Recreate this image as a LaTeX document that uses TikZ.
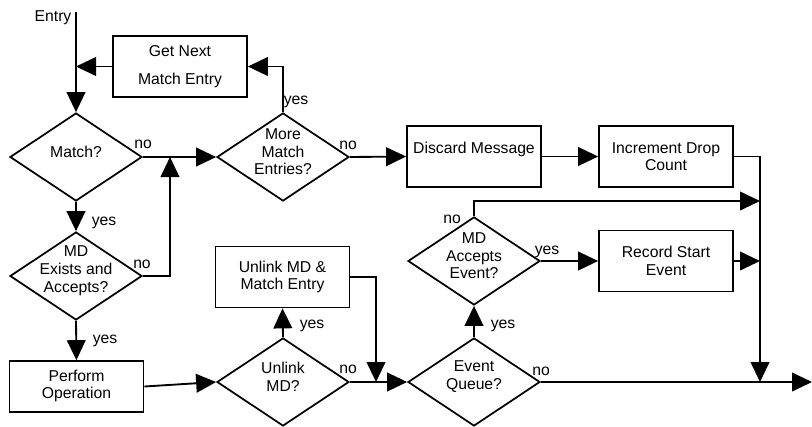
\documentclass[tikz,border=0pt]{standalone}
\usepackage{fontspec}
\setmainfont{Liberation Sans}
\usetikzlibrary{arrows.meta,shapes.geometric,positioning}

\begin{document}
\begin{tikzpicture}[x=0.75pt, y=-0.75pt,
    every node/.style={font=\fontsize{11.8}{13.2}\selectfont},
    box/.style={draw, line width=1.3pt, minimum width=100.5pt, minimum height=45.75pt, align=center, inner sep=0pt},
    dia/.style={draw, diamond, line width=1.3pt, minimum width=99pt, minimum height=66pt, inner sep=0pt},
    dtxt/.style={align=center, yshift=4pt},
    lbl/.style={inner sep=0pt, anchor=base},
    flow/.style={line width=1.4pt, -{Triangle[length=15pt,width=14pt]}}]
    \useasboundingbox (0,0) rectangle (812,426);

    % Entry and matching
    \coordinate (entry) at (76,12);
    \node[lbl] (entrylbl) at (53,21) {Entry};
    \node[dia, label={[dtxt]center:Match?}] (match) at (76,157) {};
    \node[box] (getnext) at (180,66.5) {Get Next\\[8pt]Match Entry};
    \coordinate (j1) at (76,66.5);
    \node[dia, label={[dtxt]center:More\\Match\\Entries?}] (more) at (283,157) {};
    \node[dia, label={[dtxt]center:MD\\Exists and\\Accepts?}] (mdex) at (76,276) {};
    \coordinate (j2) at (170,157);

    % Drop path
    \node[box] (discard) at (474,156.5) {Discard Message\\\mbox{}};
    \node[box] (incr) at (666,156.5) {Increment Drop\\Count};

    % Operation and events
    \node[box, minimum height=38.25pt] (perform) at (76.5,386.5) {\raisebox{3pt}{\begin{tabular}{@{}c@{}}Perform\\Operation\end{tabular}}};
    \node[dia, label={[dtxt]center:Unlink\\MD?}] (unlinkmd) at (283,382) {};
    \node[box] (unlinkbox) at (282.5,277) {Unlink MD \&\\Match Entry};
    \coordinate (j4) at (376,382);
    \node[dia, label={[dtxt]center:Event\\Queue?}] (evq) at (474,382) {};
    \node[dia, label={[dtxt]center:MD\\Accepts\\Event?}] (mdacc) at (474,261) {};
    \node[box] (record) at (666,261) {Record Start\\Event};
    \coordinate (j3) at (760,382);
    \coordinate (j5) at (760,261);
    \coordinate (j6) at (760,201);
    \coordinate (exit) at (812,382);

    % connectors
    \draw[flow] (entry) -- (match.north);
    \draw[flow] (getnext.west) -- (j1);
    \draw[flow] (match.east) -- (more.west);
    \draw[flow] (match.south) -- (mdex.north);
    \draw[flow] (mdex.east) -| (j2);
    \draw[flow] (mdex.south) -- (perform.north);
    \draw[flow] (more.north) |- (getnext.east);
    \draw[flow] (more.east) -- (discard.west);
    \draw[flow] (discard.east) -- (incr.west);
    \draw[flow] (incr.east) -| (j3);
    \draw[flow] (perform.east) -- (unlinkmd.west);
    \draw[flow] (unlinkmd.north) -- (unlinkbox.south);
    \draw[flow] (unlinkbox.east) -| (j4);
    \draw[flow] (unlinkmd.east) -- (evq.west);
    \draw[flow] (evq.north) -- (mdacc.south);
    \draw[flow] (mdacc.east) -- (record.west);
    \draw[flow] (record.east) -- (j5);
    \draw[flow] (mdacc.north) |- (j6);
    \draw[flow] (evq.east) -- (exit);

    % yes / no labels
    \node[lbl] (matchno) at (143,148) {no};
    \node[lbl] (matchyes) at (104,225) {yes};
    \node[lbl] (mdexno) at (142,268) {no};
    \node[lbl] (mdexyes) at (105,343) {yes};
    \node[lbl] (moreyes) at (296,104) {yes};
    \node[lbl] (moreno) at (348,149) {no};
    \node[lbl] (mdaccno) at (452,223) {no};
    \node[lbl] (mdaccyes) at (547,254) {yes};
    \node[lbl] (evqyes) at (503,328) {yes};
    \node[lbl] (evqno) at (541,375) {no};
    \node[lbl] (unlinkyes) at (312,328) {yes};
    \node[lbl] (unlinkno) at (348,373) {no};
\end{tikzpicture}
\end{document}
